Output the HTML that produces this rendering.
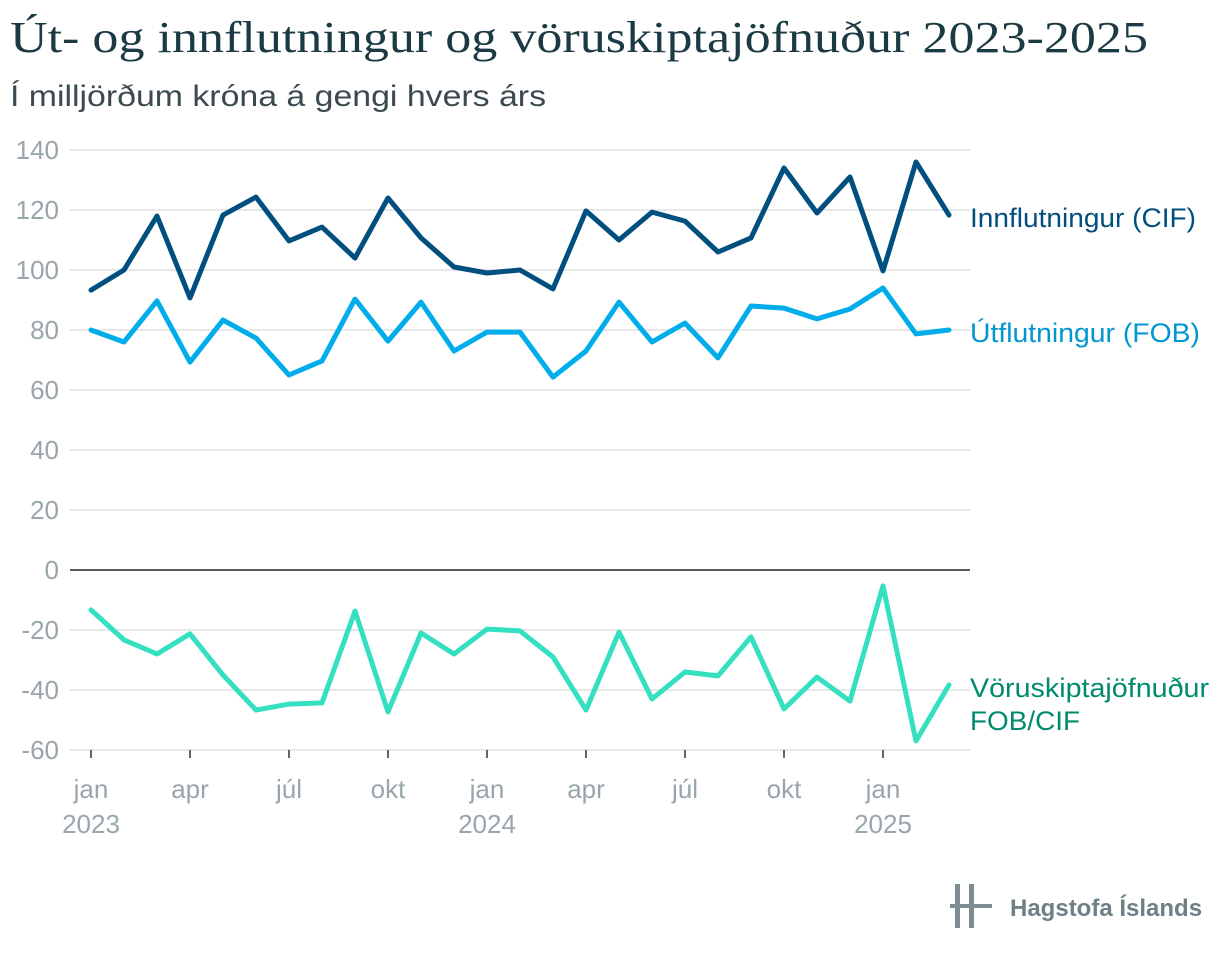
<!DOCTYPE html>
<html><head><meta charset="utf-8"><style>
body{margin:0;background:#fff;width:1220px;height:956px;overflow:hidden;font-family:"Liberation Sans",sans-serif}
svg text{font-family:"Liberation Sans",sans-serif}
</style></head><body>
<svg id="c" width="1220" height="956">
<text x="10" y="52" font-size="44" fill="#1b3a44" textLength="1138" lengthAdjust="spacingAndGlyphs" style="font-family:'Liberation Serif',serif">Út- og innflutningur og vöruskiptajöfnuður 2023-2025</text>
<text x="10" y="106" font-size="30" fill="#3a4a50" textLength="536" lengthAdjust="spacingAndGlyphs">Í milljörðum króna á gengi hvers árs</text>
<g id="grid"></g><g id="lines"></g>
<g>
<rect x="955" y="884" width="5" height="44" fill="#7d8d92"/><rect x="969" y="884" width="5" height="44" fill="#7d8d92"/><rect x="950" y="904" width="42" height="4" fill="#7d8d92"/>
<text x="1010" y="916" font-size="24" font-weight="bold" fill="#6e7f85">Hagstofa Íslands</text></g>
</svg>
<script>
const months=["jan","feb","mar","apr","maí","jún","júl","ágú","sep","okt","nóv","des","jan","feb","mar","apr","maí","jún","júl","ágú","sep","okt","nóv","des","jan","feb","mar"];
const imports=[93.3,100,118,90.7,118.3,124.3,109.7,114.3,104,124,110.7,101,99,100,93.7,119.7,110,119.3,116.3,106,110.7,134,119,131,99.7,136,118.3];
const exportsData=[80,76,89.7,69.3,83.3,77.3,65,69.7,90.3,76.3,89.3,73,79.3,79.3,64.3,73,89.3,76,82.3,70.7,88,87.3,83.7,87,94,78.7,80];
const balance=[-13.3,-23.3,-28,-21.3,-35,-46.7,-44.7,-44.3,-13.7,-47.3,-21,-28,-19.7,-20.3,-29,-46.7,-20.7,-43,-34,-35.3,-22.3,-46.3,-35.7,-43.7,-5.3,-57,-38.3];
const yTicks=[140,120,100,80,60,40,20,0,-20,-40,-60];
const xTickIdx=[0,3,6,9,12,15,18,21,24];
const xTickLabels=["jan","apr","júl","okt","jan","apr","júl","okt","jan"];
const yearLabels=[[0,"2023"],[12,"2024"],[24,"2025"]];
const NS="http://www.w3.org/2000/svg";
const x=i=>91+i*33, y=v=>570-v*3;
function mk(t,a,p){const e=document.createElementNS(NS,t);for(const k in a)e.setAttribute(k,a[k]);p.appendChild(e);return e;}
const g=document.getElementById('grid'),L=document.getElementById('lines');
yTicks.forEach(v=>{
 const l=mk('line',{x1:70,x2:970,y1:y(v),y2:y(v),stroke:v===0?'#222':'#e0e0e0','stroke-width':1.5},g);
 
 
 const t=mk('text',{x:59,y:y(v)+9,'text-anchor':'end','font-size':26,fill:'#98a6ab'},g);t.textContent=v;
 
 
});
xTickIdx.forEach((i,k)=>{
 const l=mk('line',{x1:x(i),x2:x(i),y1:750,y2:758,stroke:'#333','stroke-width':1.5},g);
 
 
 const t=mk('text',{x:x(i),y:798,'text-anchor':'middle','font-size':26,fill:'#98a6ab'},g);t.textContent=xTickLabels[k];
 
 
});
yearLabels.forEach(([i,s])=>{const t=mk('text',{x:x(i),y:833,'text-anchor':'middle','font-size':26,fill:'#98a6ab'},g);t.textContent=s;
 
 });
function line(arr,col,name){
 const p=mk('polyline',{points:arr.map((v,i)=>x(i)+','+y(v)).join(' '),fill:'none',stroke:col,'stroke-width':5,'stroke-linejoin':'round','stroke-linecap':'round'},L);
 
 
}
line(imports,'#004f7e','imports-line');
line(exportsData,'#00adea','exports-line');
line(balance,'#35e0c0','balance-line');
function lab(txt,yy,col,w){const t=mk('text',{x:970,y:yy,'font-size':27,fill:col,textLength:w,lengthAdjust:'spacingAndGlyphs'},L);t.textContent=txt;
 
 }
lab('Innflutningur (CIF)',227,'#004f7e',226);
lab('Útflutningur (FOB)',342,'#0096d0',230);
lab('Vöruskiptajöfnuður',697,'#008a6e',239);
lab('FOB/CIF',730,'#008a6e',110);
</script>
</body></html>
